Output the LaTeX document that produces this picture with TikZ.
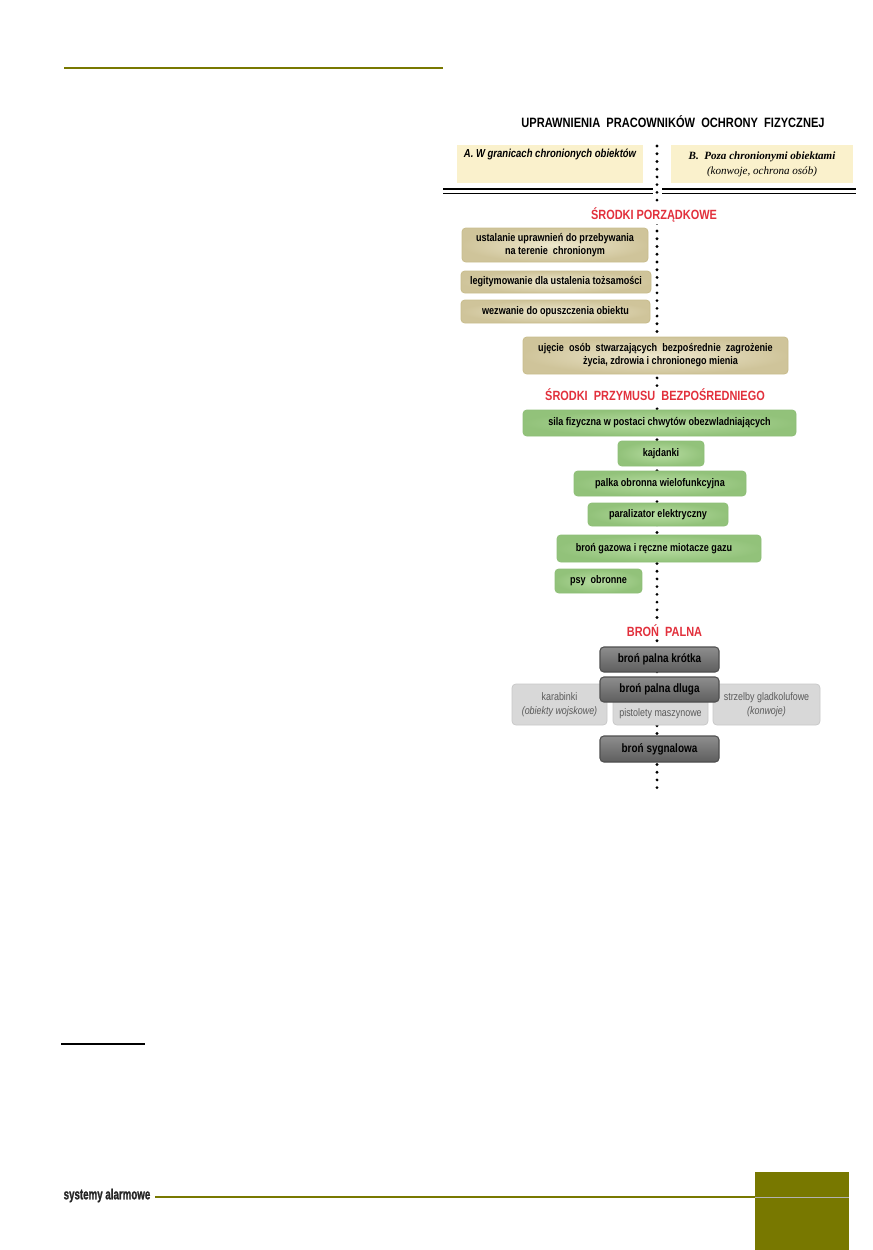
\documentclass[tikz,border=0pt]{standalone}
\usepackage{fontspec}
\setmainfont{Liberation Sans}
\newfontfamily\nar[FakeStretch=0.82]{Liberation Sans}
\newfontfamily\narr[FakeStretch=0.66,FakeBold=1.2]{Liberation Sans}
\newfontfamily\serifB{Liberation Serif}
\definecolor{olive}{HTML}{787800}
\definecolor{redt}{HTML}{E2303C}
\definecolor{cream}{HTML}{FAF1CC}
\definecolor{taninner}{HTML}{EDE7CD}
\definecolor{tanouter}{HTML}{CFC49A}
\definecolor{tanedge}{HTML}{C9BD8E}
\definecolor{greeninner}{HTML}{B8DDA2}
\definecolor{greenouter}{HTML}{92C27A}
\definecolor{greenedge}{HTML}{8FBF78}
\definecolor{darktop}{HTML}{8E8E8E}
\definecolor{darkbot}{HTML}{5E5E5E}
\definecolor{darkedge}{HTML}{4E4E4E}
\definecolor{lightfill}{HTML}{D8D8D8}
\definecolor{lighttext}{HTML}{5A5A5A}
\begin{document}
\begin{tikzpicture}[x=0.02cm,y=-0.02cm,
  wh/.style 2 args={minimum width=#1*0.02cm, minimum height=#2*0.02cm},
  base/.style={inner sep=0pt, align=center, rounded corners=2.2pt},
  boxtext/.style={font=\nar\bfseries\fontsize{6.3}{7.4}\selectfont},
  tanbox/.style={base, boxtext, inner color=taninner, outer color=tanouter, draw=tanedge, line width=0.5pt},
  greenbox/.style={base, boxtext, inner color=greeninner, outer color=greenouter, draw=greenedge, line width=0.5pt},
  darkbox/.style={base, font=\nar\bfseries\fontsize{6.9}{7.8}\selectfont, text=black, top color=darktop, bottom color=darkbot, draw=darkedge, line width=0.6pt},
  lightbox/.style={base, font=\nar\fontsize{6.2}{7.6}\selectfont, text=lighttext, fill=lightfill, draw=lightfill!92!black, line width=0.4pt},
  creambox/.style={inner sep=0pt, align=center, fill=cream},
  redtitle/.style={fill=white, inner sep=1pt, text=redt, font=\nar\bfseries\fontsize{7.6}{8.5}\selectfont},
  dotline/.style={line width=1.8pt, line cap=round, dash pattern=on 0pt off 4.4pt},
  oliverule/.style={draw=olive, line width=0.9pt},
]
\useasboundingbox (0,0) rectangle (872,1250);

% page rules
\coordinate (toprL) at (64,68);
\coordinate (toprR) at (443,68);
\draw[oliverule] (toprL) -- (toprR);
\coordinate (fnL) at (61,1044);
\coordinate (fnR) at (145,1044);
\draw[line width=0.6pt] (fnL) -- (fnR);

% footer
\node[font=\narr\bfseries\fontsize{8.4}{9}\selectfont, inner sep=0pt, text=black!85] (footer) at (107,1195.5) {systemy alarmowe};
\coordinate (footL) at (155,1197);
\coordinate (footR) at (755,1197);
\draw[oliverule] (footL) -- (footR);
\fill[olive] (755,1172) rectangle (849,1250);
\draw[black!30, line width=0.5pt] (755,1197) -- (849,1197);

% title
\node[font=\nar\bfseries\fontsize{7.7}{9}\selectfont, inner sep=0pt] (title) at (673,122) {UPRAWNIENIA\ \ PRACOWNIKÓW\ \ OCHRONY\ \ FIZYCZNEJ};

% header boxes
\node[creambox, wh={186}{38}, font=\nar\bfseries\itshape\fontsize{6.6}{7.6}\selectfont, text height=0.18cm, text depth=0.42cm] (A) at (550,164) {A.\ W granicach chronionych obiektów};
\node[creambox, wh={182}{38}, font=\serifB\fontsize{6.3}{7.4}\selectfont] (B) at (762,164) {\textbf{\textit{B.\ \ Poza chronionymi obiektami}}\\[1pt] \textit{(konwoje, ochrona osób)}};

% double rules
\draw[line width=1.3pt] (443,189) -- (653,189);
\draw[line width=1.3pt] (662,189) -- (856,189);
\draw[line width=0.8pt] (443,193.5) -- (653,193.5);
\draw[line width=0.8pt] (662,193.5) -- (856,193.5);

% dotted axis
\coordinate (dtop) at (657,146);
\coordinate (dbot) at (657,792);
\draw[dotline] (dtop) -- (dbot);

% section 1
\node[redtitle] (s1) at (654,215) {ŚRODKI PORZĄDKOWE};
\node[tanbox, wh={186}{34}] (p1) at (555,245) {ustalanie uprawnień do przebywania\\na terenie\ \ chronionym};
\node[tanbox, wh={190}{22}] (p2) at (556,282) {legitymowanie dla ustalenia tożsamości};
\node[tanbox, wh={189}{23}] (p3) at (555.5,311.5) {wezwanie do opuszczenia obiektu};
\node[tanbox, wh={265}{37}] (p4) at (655.5,355.5) {ujęcie\ \ osób\ \ stwarzających\ \ bezpośrednie\ \ zagrożenie\\\ \ \ \ życia, zdrowia i chronionego mienia};

% section 2
\node[redtitle] (s2) at (655,395) {ŚRODKI\ \ PRZYMUSU\ \ BEZPOŚREDNIEGO};
\node[greenbox, wh={273}{26}] (g1) at (659.5,423) {sila fizyczna w postaci chwytów obezwladniających};
\node[greenbox, wh={86}{25}] (g2) at (661,453.5) {kajdanki};
\node[greenbox, wh={172}{25}] (g3) at (660,483.5) {palka obronna wielofunkcyjna};
\node[greenbox, wh={140}{23}] (g4) at (658,514.5) {paralizator elektryczny};
\node[greenbox, wh={204}{27}] (g5) at (659,548.5) {broń gazowa i ręczne miotacze gazu\ \ \ \ };
\node[greenbox, wh={87}{24}] (g6) at (598.5,581) {psy\ \ obronne};

% section 3
\node[redtitle] (s3) at (664.5,631) {BROŃ\ \ PALNA};
\node[darkbox, wh={119}{25}] (f1) at (659.5,659.5) {broń palna krótka};
\node[lightbox, wh={95}{41}] (l1) at (559.5,704.5) {karabinki\\\textit{(obiekty wojskowe)}};
\node[lightbox, wh={95}{41}, text height=0.56cm, text depth=0.1cm] (l2) at (660.5,704.5) {pistolety maszynowe};
\node[lightbox, wh={107}{41}] (l3) at (766.5,704.5) {strzelby gladkolufowe\\\textit{(konwoje)}};
\node[darkbox, wh={119}{25}] (f2) at (659.5,689.5) {broń palna dluga};
\node[darkbox, wh={119}{26}] (f3) at (659.5,749) {broń sygnalowa};
\end{tikzpicture}
\end{document}
